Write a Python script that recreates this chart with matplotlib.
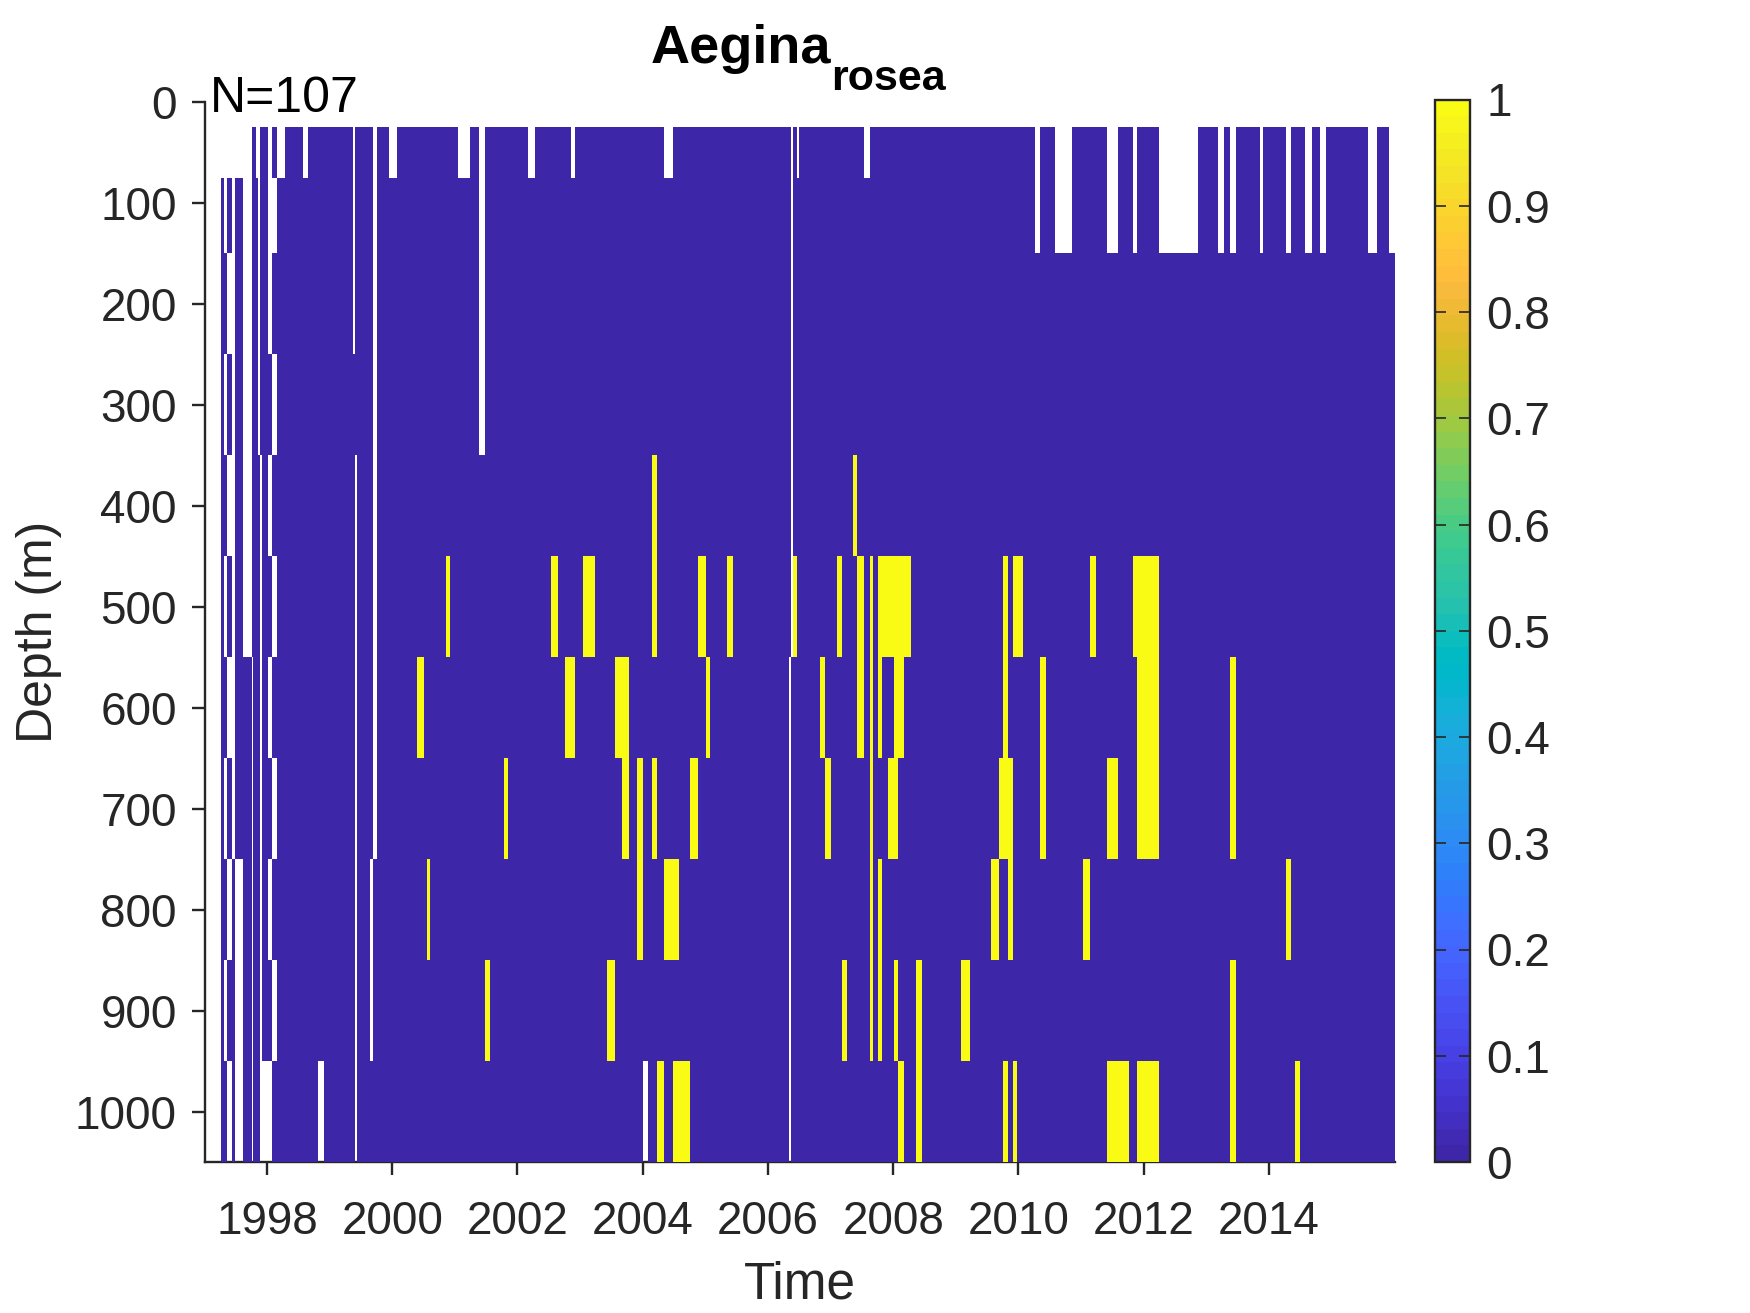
#!/usr/bin/env python3

import numpy as np
import matplotlib
matplotlib.use('Agg')
import matplotlib.pyplot as plt
from matplotlib.colors import ListedColormap

# depth bins (m) and the span of the survey in decimal years
depth_edges = [25, 75, 150, 250, 350, 450, 550, 650, 750, 850, 950, 1050]
time_start = 1997.265
time_end = 2016.013

# no sample (white), one list per depth bin
gaps_50 = [(1997.265, 1997.760), (1997.824, 1997.888), (1998.016, 1998.080), (1998.160, 1998.287),
           (1998.575, 1998.655), (1999.373, 1999.405), (1999.693, 1999.757), (1999.948, 2000.076),
           (2001.050, 2001.242), (2001.385, 2001.481), (2002.168, 2002.280), (2002.855, 2002.919),
           (2004.340, 2004.484), (2006.368, 2006.400), (2006.463, 2006.495), (2007.533, 2007.629),
           (2010.264, 2010.344), (2010.583, 2010.855), (2011.414, 2011.590), (2011.829, 2011.893),
           (2012.244, 2012.867), (2013.186, 2013.282), (2013.378, 2013.474), (2013.857, 2013.905),
           (2014.272, 2014.352), (2014.576, 2014.688), (2014.815, 2014.911), (2015.582, 2015.726),
           (2015.917, 2016.013)]
gaps_100 = [(1997.313, 1997.361), (1997.441, 1997.484), (1997.617, 1997.760), (1997.856, 1997.888),
            (1998.016, 1998.160), (1999.373, 1999.405), (1999.693, 1999.757), (2001.385, 2001.481),
            (2006.368, 2006.400), (2010.264, 2010.344), (2010.583, 2010.855), (2011.414, 2011.590),
            (2011.829, 2011.893), (2012.244, 2012.867), (2013.186, 2013.282), (2013.378, 2013.474),
            (2013.857, 2013.905), (2014.272, 2014.352), (2014.576, 2014.688), (2014.815, 2014.911),
            (2015.582, 2015.726), (2015.917, 2016.013)]
gaps_200 = [(1997.361, 1997.484), (1997.617, 1997.760), (1997.856, 1997.888), (1998.016, 1998.080),
            (1999.373, 1999.405), (1999.693, 1999.757), (2001.385, 2001.481), (2006.368, 2006.400)]
gaps_300 = [(1997.313, 1997.361), (1997.441, 1997.484), (1997.617, 1997.760), (1997.856, 1997.888),
            (1998.080, 1998.160), (1999.693, 1999.757), (2001.385, 2001.481), (2006.368, 2006.400)]
gaps_400 = [(1997.361, 1997.484), (1997.617, 1997.760), (1997.888, 1997.920), (1998.016, 1998.080),
            (1999.405, 1999.437), (1999.693, 1999.757), (2006.368, 2006.400)]
gaps_500 = [(1997.313, 1997.361), (1997.441, 1997.484), (1997.617, 1997.760), (1997.888, 1997.920),
            (1998.080, 1998.160), (1999.405, 1999.437), (1999.693, 1999.757), (2006.368, 2006.400)]
gaps_600 = [(1997.361, 1997.484), (1997.760, 1997.776), (1997.888, 1997.920), (1998.016, 1998.080),
            (1999.405, 1999.437), (1999.693, 1999.757), (2006.336, 2006.368)]
gaps_700 = [(1997.313, 1997.361), (1997.441, 1997.484), (1997.760, 1997.776), (1997.888, 1997.920),
            (1998.080, 1998.160), (1999.405, 1999.437), (1999.693, 1999.757), (2006.336, 2006.368)]
gaps_800 = [(1997.361, 1997.441), (1997.484, 1997.617), (1997.760, 1997.776), (1997.888, 1997.920),
            (1998.016, 1998.080), (1999.405, 1999.437), (1999.645, 1999.693), (2006.336, 2006.368)]
gaps_900 = [(1997.313, 1997.361), (1997.484, 1997.617), (1997.760, 1997.776), (1997.888, 1997.920),
            (1998.080, 1998.160), (1999.405, 1999.437), (1999.645, 1999.693), (2006.336, 2006.368)]
gaps_1000 = [(1997.361, 1997.441), (1997.484, 1997.617), (1997.760, 1997.776), (1997.888, 1998.080),
             (1998.814, 1998.910), (1999.405, 1999.437), (2004.004, 2004.084), (2006.336, 2006.368)]

# species present (value 1), one list per depth bin
hits_400 = [(2004.148, 2004.228), (2007.358, 2007.422)]
hits_500 = [(2000.858, 2000.922), (2002.535, 2002.647), (2003.046, 2003.238), (2004.148, 2004.228),
            (2004.882, 2005.010), (2005.346, 2005.441), (2006.400, 2006.463), (2007.102, 2007.182),
            (2007.422, 2007.533), (2007.629, 2007.677), (2007.757, 2008.284), (2009.753, 2009.833),
            (2009.913, 2010.072), (2011.142, 2011.238), (2011.829, 2012.244)]
hits_600 = [(2000.395, 2000.507), (2002.759, 2002.919), (2003.557, 2003.781), (2005.010, 2005.074),
            (2006.831, 2006.911), (2007.422, 2007.533), (2007.629, 2007.677), (2007.757, 2007.821),
            (2008.012, 2008.172), (2009.753, 2009.833), (2010.344, 2010.440), (2011.893, 2012.244),
            (2013.378, 2013.474)]
hits_700 = [(2001.785, 2001.849), (2003.669, 2003.781), (2003.909, 2004.004), (2004.148, 2004.228),
            (2004.755, 2004.882), (2006.911, 2007.006), (2007.629, 2007.677), (2007.917, 2008.076),
            (2009.689, 2009.913), (2010.344, 2010.440), (2011.414, 2011.590), (2011.893, 2012.244),
            (2013.378, 2013.474)]
hits_800 = [(2000.555, 2000.603), (2003.909, 2004.004), (2004.340, 2004.579), (2007.629, 2007.677),
            (2007.757, 2007.821), (2009.561, 2009.689), (2009.833, 2009.913), (2011.031, 2011.142),
            (2014.272, 2014.352)]
hits_900 = [(2001.481, 2001.561), (2003.430, 2003.557), (2007.182, 2007.262), (2007.629, 2007.677),
            (2007.757, 2007.821), (2008.012, 2008.076), (2008.364, 2008.460), (2009.082, 2009.226),
            (2013.378, 2013.474)]
hits_1000 = [(2004.228, 2004.340), (2004.484, 2004.755), (2008.076, 2008.172), (2008.364, 2008.460),
             (2009.753, 2009.833), (2009.913, 2009.977), (2011.414, 2011.765), (2011.893, 2012.244),
             (2013.378, 2013.474), (2014.416, 2014.496)]

gaps = [gaps_50, gaps_100, gaps_200, gaps_300, gaps_400, gaps_500,
        gaps_600, gaps_700, gaps_800, gaps_900, gaps_1000]
hits = [[], [], [], [], hits_400, hits_500, hits_600, hits_700, hits_800, hits_900, hits_1000]

x_ticks = [1998, 2000, 2002, 2004, 2006, 2008, 2010, 2012, 2014]
y_ticks = [0, 100, 200, 300, 400, 500, 600, 700, 800, 900, 1000]
cbar_ticks = [0, 0.1, 0.2, 0.3, 0.4, 0.5, 0.6, 0.7, 0.8, 0.9, 1]
cbar_labels = ['0', '0.1', '0.2', '0.3', '0.4', '0.5', '0.6', '0.7', '0.8', '0.9', '1']

# matlab parula, 64 levels
parula = ListedColormap([
    [0.2422, 0.1504, 0.6603], [0.2504, 0.1650, 0.7076], [0.2578, 0.1818, 0.7511], [0.2647, 0.1978, 0.7952],
    [0.2706, 0.2147, 0.8364], [0.2751, 0.2342, 0.8710], [0.2783, 0.2559, 0.8991], [0.2803, 0.2782, 0.9221],
    [0.2813, 0.3006, 0.9414], [0.2810, 0.3228, 0.9579], [0.2795, 0.3447, 0.9717], [0.2760, 0.3667, 0.9829],
    [0.2699, 0.3892, 0.9906], [0.2602, 0.4123, 0.9952], [0.2440, 0.4358, 0.9988], [0.2206, 0.4603, 0.9973],
    [0.1963, 0.4847, 0.9892], [0.1834, 0.5074, 0.9798], [0.1786, 0.5289, 0.9682], [0.1764, 0.5499, 0.9520],
    [0.1687, 0.5703, 0.9359], [0.1540, 0.5902, 0.9218], [0.1460, 0.6091, 0.9079], [0.1380, 0.6276, 0.8973],
    [0.1248, 0.6459, 0.8883], [0.1113, 0.6635, 0.8763], [0.0952, 0.6798, 0.8598], [0.0689, 0.6948, 0.8394],
    [0.0297, 0.7082, 0.8163], [0.0036, 0.7203, 0.7917], [0.0067, 0.7312, 0.7660], [0.0433, 0.7411, 0.7394],
    [0.0964, 0.7500, 0.7120], [0.1408, 0.7584, 0.6842], [0.1717, 0.7670, 0.6554], [0.1938, 0.7758, 0.6251],
    [0.2161, 0.7843, 0.5923], [0.2470, 0.7918, 0.5567], [0.2906, 0.7973, 0.5188], [0.3406, 0.8008, 0.4789],
    [0.3909, 0.8029, 0.4354], [0.4456, 0.8024, 0.3909], [0.5044, 0.7993, 0.3480], [0.5616, 0.7942, 0.3045],
    [0.6174, 0.7876, 0.2612], [0.6720, 0.7793, 0.2227], [0.7242, 0.7698, 0.1910], [0.7738, 0.7598, 0.1646],
    [0.8203, 0.7498, 0.1535], [0.8634, 0.7406, 0.1596], [0.9035, 0.7330, 0.1774], [0.9393, 0.7288, 0.2100],
    [0.9728, 0.7298, 0.2394], [0.9956, 0.7434, 0.2371], [0.9970, 0.7659, 0.2199], [0.9952, 0.7893, 0.2028],
    [0.9892, 0.8136, 0.1885], [0.9786, 0.8386, 0.1766], [0.9676, 0.8639, 0.1643], [0.9610, 0.8890, 0.1537],
    [0.9597, 0.9135, 0.1423], [0.9628, 0.9373, 0.1265], [0.9691, 0.9606, 0.1064], [0.9769, 0.9839, 0.0805]])

DARK = '#262626'


def build_grid():
	# every interval edge becomes a cell edge, so the cells stay irregular like the sampling
	edges = {time_start, time_end}
	for row in gaps + hits:
		for a, b in row:
			edges.add(a)
			edges.add(b)
	edges = np.array(sorted(edges))
	mids = (edges[:-1] + edges[1:]) / 2
	z = np.zeros((len(gaps), len(mids)))
	for i in range(len(gaps)):
		for a, b in hits[i]:
			z[i, (mids > a) & (mids < b)] = 1
		for a, b in gaps[i]:
			z[i, (mids > a) & (mids < b)] = np.nan
	return edges, z


def main():
	plt.rcParams['font.family'] = ['Liberation Sans', 'DejaVu Sans']
	W, H = 1750, 1313
	fig = plt.figure(figsize=(W / 100, H / 100), dpi=100)
	ax = fig.add_axes([205 / W, (H - 1162) / H, (1395 - 205) / W, 1060 / H])

	edges, z = build_grid()
	mesh = ax.pcolormesh(edges, depth_edges, z, cmap=parula, vmin=0, vmax=1, zorder=3, antialiased=False)

	ax.set_xlim(1997.01, 2016.013)
	ax.set_ylim(1050, 0)
	ax.set_xticks(x_ticks)
	ax.set_yticks(y_ticks)
	ax.tick_params(direction='out', length=9.2, width=1.7, color=DARK, labelcolor=DARK, labelsize=33)
	ax.tick_params(axis='x', pad=18)
	ax.tick_params(axis='y', pad=11)
	ax.spines['top'].set_visible(False)
	ax.spines['right'].set_visible(False)
	ax.spines['left'].set_linewidth(1.7)
	ax.spines['bottom'].set_linewidth(1.7)
	ax.spines['left'].set_color(DARK)
	ax.spines['bottom'].set_color(DARK)

	ax.set_xlabel('Time', fontsize=37, color=DARK, labelpad=12)
	ax.set_ylabel('Depth (m)', fontsize=36, color=DARK, labelpad=9)
	ax.text(1997.09, 10, 'N=107', fontsize=36, color='black', va='baseline', ha='left')

	fig.text(651 / W, 1 - 63 / H, 'Aegina', fontsize=39, fontweight='bold', color='black', va='baseline')
	fig.text(831 / W, 1 - 90 / H, 'rosea', fontsize=31, fontweight='bold', color='black', va='baseline')

	cax = fig.add_axes([1435 / W, (H - 1162) / H, 35 / W, 1062.5 / H])
	cbar = fig.colorbar(mesh, cax=cax)
	cbar.set_ticks(cbar_ticks)
	cbar.set_ticklabels(cbar_labels)
	cax.tick_params(direction='in', left=True, right=True, length=8, width=1.2, color=DARK,
		labelcolor=DARK, labelsize=33, pad=12)
	cbar.outline.set_linewidth(1.7)
	cbar.outline.set_edgecolor(DARK)

	fig.savefig('out.png', dpi=100)


if __name__ == '__main__':
	main()
